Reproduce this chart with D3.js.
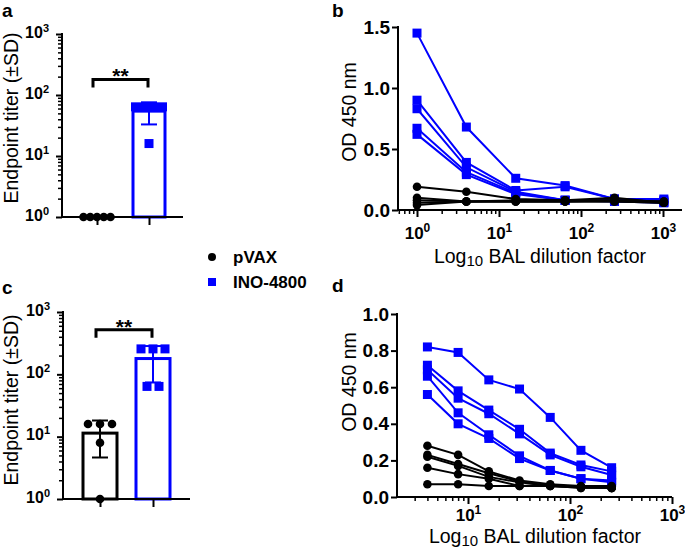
<!DOCTYPE html>
<html>
<head>
<meta charset="utf-8">
<title>Endpoint titers and BAL dilution curves</title>
<script src="https://cdn.jsdelivr.net/npm/d3@7/dist/d3.min.js"></script>
<style>
    body { margin: 0; background: #fff; }
    text { font-family: "Liberation Sans", Arial, sans-serif; }
</style>
</head>
<body>
<script>
    var groups = ['pVAX', 'INO-4800'];
    var groupColors = ['#000000', '#0000ff'];

    // endpoint titers per animal (panels a and c)
    var titerA_pvax = [1, 1, 1, 1, 1];
    var titerA_ino = [64, 64, 64, 64, 16];
    var titerC_pvax = [16, 16, 16, 8, 1];
    var titerC_ino = [256, 256, 256, 64, 64];
    var sigLabel = '**';
    var sigLevelA = 180, sigLevelC = 520;

    // dilution curves, panel b
    var dilB = [1, 4, 16, 64, 256, 1024];
    var odB_ino = [
        [1.45, 0.68, 0.26, 0.20, 0.09, 0.09],
        [0.90, 0.39, 0.16, 0.19, 0.09, 0.08],
        [0.83, 0.35, 0.15, 0.08, 0.08, 0.07],
        [0.67, 0.31, 0.14, 0.08, 0.08, 0.06],
        [0.62, 0.29, 0.13, 0.08, 0.07, 0.06]
    ];
    var odB_pvax = [
        [0.19, 0.15, 0.09, 0.08, 0.08, 0.07],
        [0.10, 0.07, 0.08, 0.08, 0.10, 0.06],
        [0.08, 0.07, 0.07, 0.07, 0.08, 0.07],
        [0.06, 0.07, 0.07, 0.07, 0.07, 0.06],
        [0.04, 0.07, 0.07, 0.07, 0.07, 0.06]
    ];

    // dilution curves, panel d
    var dilD = [4, 8, 16, 32, 64, 128, 256];
    var odD_ino = [
        [0.82, 0.79, 0.64, 0.59, 0.435, 0.255, 0.16],
        [0.72, 0.58, 0.475, 0.37, 0.24, 0.175, 0.14],
        [0.695, 0.54, 0.455, 0.345, 0.23, 0.165, 0.12],
        [0.66, 0.46, 0.34, 0.225, 0.145, 0.10, 0.09],
        [0.56, 0.40, 0.32, 0.21, 0.145, 0.10, 0.08]
    ];
    var odD_pvax = [
        [0.28, 0.23, 0.14, 0.09, 0.07, 0.06, 0.06],
        [0.23, 0.18, 0.13, 0.085, 0.06, 0.055, 0.05],
        [0.22, 0.17, 0.11, 0.08, 0.06, 0.05, 0.05],
        [0.16, 0.125, 0.10, 0.06, 0.065, 0.055, 0.05],
        [0.07, 0.07, 0.06, 0.06, 0.06, 0.05, 0.05]
    ];

    var titerTicks = [1, 10, 100, 1000];
    var dilTicksB = [1, 10, 100, 1000];
    var dilTicksD = [10, 100, 1000];
    var odTicksB = [0, 0.5, 1.0, 1.5];
    var odTicksD = [0, 0.2, 0.4, 0.6, 0.8, 1.0];

    var width = 685, height = 551;
    var svg = d3.select('body').append('svg').attr('width', width).attr('height', height);

    function minorLog(lo, hi) {
        var out = [];
        for (var p = Math.floor(Math.log10(lo)); p <= Math.ceil(Math.log10(hi)); p++) {
            for (var k = 2; k <= 9; k++) {
                var v = k * Math.pow(10, p);
                if (v >= lo && v <= hi) out.push(v);
            }
        }
        return out;
    }

    function powLabel(sel, size, supSize, rise) {
        sel.each(function (d) {
            var t = d3.select(this).text('');
            t.append('tspan').attr('font-size', size).text('10');
            t.append('tspan').attr('font-size', supSize).attr('dy', -rise).text(Math.round(Math.log10(d)));
        });
    }

    function styleAxis(g) {
        g.selectAll('line').attr('stroke', '#000').attr('stroke-width', 2);
        g.selectAll('text').attr('fill', '#000').attr('font-weight', 'bold');
    }

    // ---- bar panels (a, c) ----
    function barPanel(o) {
        var g = svg.append('g');
        var y = d3.scaleLog().domain([1, 1000]).range([o.bottom, o.top]);
        var x = d3.scalePoint().domain(groups).range(o.centers);

        // bars + error bars + points
        [o.pvax, o.ino].forEach(function (vals, gi) {
            var cx = x(groups[gi]), col = groupColors[gi];
            var m = d3.mean(vals), sd = d3.deviation(vals);
            g.append('rect')
                .attr('x', cx - o.barW / 2).attr('y', y(m))
                .attr('width', o.barW).attr('height', y(1) - y(m))
                .attr('fill', 'none').attr('stroke', col).attr('stroke-width', 3);
            var lo = Math.max(1, m - sd), hi = m + sd;
            if (m > 1) {
                g.append('line').attr('x1', cx).attr('x2', cx).attr('y1', y(lo)).attr('y2', y(hi))
                    .attr('stroke', col).attr('stroke-width', 2);
                [lo, hi].forEach(function (v) {
                    g.append('line').attr('x1', cx - 8).attr('x2', cx + 8).attr('y1', y(v)).attr('y2', y(v))
                        .attr('stroke', col).attr('stroke-width', 2);
                });
            }
            // spread equal values side by side
            var counts = d3.rollup(vals, function (v) { return v.length; }, function (v) { return v; });
            var seen = new Map();
            vals.forEach(function (v) {
                var n = counts.get(v), k = seen.get(v) || 0;
                seen.set(v, k + 1);
                var step = n > 1 ? Math.min(12, 27 / (n - 1)) : 0;
                var px = cx + (k - (n - 1) / 2) * step;
                if (gi === 0) {
                    g.append('circle').attr('cx', px).attr('cy', y(v)).attr('r', 4.3).attr('fill', col);
                } else {
                    g.append('rect').attr('x', px - 4.5).attr('y', y(v) - 4.5)
                        .attr('width', 9).attr('height', 9).attr('fill', col);
                }
            });
        });

        // y axis
        var ya = g.append('g').attr('transform', 'translate(' + o.left + ',0)')
            .call(d3.axisLeft(y).tickValues(titerTicks).tickSize(6).tickSizeOuter(0).tickPadding(7));
        ya.select('.domain').remove();
        powLabel(ya.selectAll('.tick text'), 16, 11, 6);
        styleAxis(ya);
        var ym = g.append('g').attr('transform', 'translate(' + o.left + ',0)')
            .call(d3.axisLeft(y).tickValues(minorLog(1, 1000)).tickSize(4).tickFormat(''));
        ym.select('.domain').remove();
        ym.selectAll('line').attr('stroke', '#000').attr('stroke-width', 1.5);
        g.append('line').attr('x1', o.left).attr('x2', o.left).attr('y1', o.top - 1).attr('y2', o.bottom)
            .attr('stroke', '#000').attr('stroke-width', 2);

        // x axis
        var xa = g.append('g').attr('transform', 'translate(0,' + o.bottom + ')')
            .call(d3.axisBottom(x).tickSize(8).tickFormat(''));
        xa.select('.domain').remove();
        styleAxis(xa);
        g.append('line').attr('x1', o.left - 1).attr('x2', o.right).attr('y1', o.bottom).attr('y2', o.bottom)
            .attr('stroke', '#000').attr('stroke-width', 2);

        // significance bracket
        var x1 = x(groups[0]) - 4, x2 = x(groups[1]) - 1, sy = y(o.sig);
        g.append('path').attr('d', 'M' + x1 + ',' + (sy + 8) + 'V' + sy + 'H' + x2 + 'V' + (sy + 8))
            .attr('fill', 'none').attr('stroke', '#000').attr('stroke-width', 3);
        g.append('text').attr('x', (x1 + x2) / 2).attr('y', sy + 4).attr('text-anchor', 'middle')
            .attr('font-size', 21).attr('font-weight', 'bold').text(sigLabel);

        g.append('text').attr('transform', 'translate(18,' + o.labelY + ') rotate(-90)')
            .attr('text-anchor', 'middle').attr('font-size', 19.5).text('Endpoint titer (\u00b1SD)');
        g.append('text').attr('x', 2).attr('y', o.letterY).attr('font-size', 19).attr('font-weight', 'bold').text(o.letter);
    }

    barPanel({ pvax: titerA_pvax, ino: titerA_ino, top: 34, bottom: 217, left: 62, right: 183,
        centers: [97, 149], barW: 32, sig: sigLevelA, labelY: 118, letter: 'a', letterY: 17 });
    barPanel({ pvax: titerC_pvax, ino: titerC_ino, top: 312, bottom: 499, left: 63, right: 190,
        centers: [100, 153], barW: 34, sig: sigLevelC, labelY: 400, letter: 'c', letterY: 294 });

    // ---- curve panels (b, d) ----
    function curvePanel(o) {
        var g = svg.append('g');
        var x = d3.scaleLog().domain(o.xDom).range(o.xRange);
        var y = d3.scaleLinear().domain([0, o.yMax]).range([o.bottom, o.top]);
        var line = d3.line().x(function (d) { return x(d[0]); }).y(function (d) { return y(d[1]); });

        [o.ino, o.pvax].forEach(function (set, si) {
            var col = si === 0 ? groupColors[1] : groupColors[0];
            set.forEach(function (row) {
                var pts = row.map(function (v, i) { return [o.dil[i], v]; });
                g.append('path').attr('d', line(pts)).attr('fill', 'none').attr('stroke', col).attr('stroke-width', 2);
                pts.forEach(function (p) {
                    if (si === 0) {
                        g.append('rect').attr('x', x(p[0]) - 4.5).attr('y', y(p[1]) - 4.5)
                            .attr('width', 9).attr('height', 9).attr('fill', col);
                    } else {
                        g.append('circle').attr('cx', x(p[0])).attr('cy', y(p[1])).attr('r', 4.3).attr('fill', col);
                    }
                });
            });
        });

        // y axis
        var ya = g.append('g').attr('transform', 'translate(' + o.left + ',0)')
            .call(d3.axisLeft(y).tickValues(o.yTicks).tickSize(6).tickSizeOuter(0).tickPadding(2).tickFormat(d3.format('.1f')));
        ya.select('.domain').remove();
        styleAxis(ya);
        ya.selectAll('.tick text').attr('font-size', 19);
        g.append('line').attr('x1', o.left).attr('x2', o.left).attr('y1', o.top - 1).attr('y2', o.bottom)
            .attr('stroke', '#000').attr('stroke-width', 2);

        // x axis
        var xa = g.append('g').attr('transform', 'translate(0,' + o.bottom + ')')
            .call(d3.axisBottom(x).tickValues(o.xTicks).tickSize(7).tickSizeOuter(0));
        xa.select('.domain').remove();
        powLabel(xa.selectAll('.tick text').attr('y', o.tickLabelDy).attr('dy', 0), 17, 12, 7);
        styleAxis(xa);
        var xm = g.append('g').attr('transform', 'translate(0,' + o.bottom + ')')
            .call(d3.axisBottom(x).tickValues(minorLog(x.invert(o.left), x.invert(o.right))).tickSize(4).tickFormat(''));
        xm.select('.domain').remove();
        xm.selectAll('line').attr('stroke', '#000').attr('stroke-width', 1.5);
        g.append('line').attr('x1', o.left - 1).attr('x2', o.right).attr('y1', o.bottom).attr('y2', o.bottom)
            .attr('stroke', '#000').attr('stroke-width', 2);

        var xt = g.append('text').attr('x', o.titleX).attr('y', o.bottom + o.titleDy).attr('text-anchor', 'middle')
            .attr('font-size', 19.5);
        xt.append('tspan').text('Log');
        xt.append('tspan').attr('font-size', 15).attr('dy', 3).text('10');
        xt.append('tspan').attr('dy', -3).text(' BAL dilution factor');

        g.append('text').attr('transform', 'translate(356,' + o.labelY + ') rotate(-90)')
            .attr('text-anchor', 'middle').attr('font-size', 19.5).text('OD 450 nm');
        g.append('text').attr('x', 332).attr('y', o.letterY).attr('font-size', 19).attr('font-weight', 'bold').text(o.letter);
    }

    curvePanel({ dil: dilB, ino: odB_ino, pvax: odB_pvax, xDom: [1, 1000], xRange: [417, 663],
        left: 398, right: 682, top: 27, bottom: 210, yMax: 1.5, yTicks: odTicksB, xTicks: dilTicksB,
        tickLabelDy: 29, titleDy: 53, titleX: 540, labelY: 112, letter: 'b', letterY: 17 });
    curvePanel({ dil: dilD, ino: odD_ino, pvax: odD_pvax, xDom: [10, 1000], xRange: [468, 672],
        left: 397, right: 672, top: 314, bottom: 497, yMax: 1.0, yTicks: odTicksD, xTicks: dilTicksD,
        tickLabelDy: 24, titleDy: 46, titleX: 535, labelY: 382, letter: 'd', letterY: 292 });

    // legend
    var leg = svg.append('g');
    groups.forEach(function (name, i) {
        var ly = 257 + i * 25;
        if (i === 0) {
            leg.append('circle').attr('cx', 212).attr('cy', ly).attr('r', 4).attr('fill', groupColors[i]);
        } else {
            leg.append('rect').attr('x', 208).attr('y', ly - 4).attr('width', 8).attr('height', 8).attr('fill', groupColors[i]);
        }
        leg.append('text').attr('x', 233).attr('y', ly + 6).attr('font-size', 17).attr('font-weight', 'bold').text(name);
    });
</script>
</body>
</html>
